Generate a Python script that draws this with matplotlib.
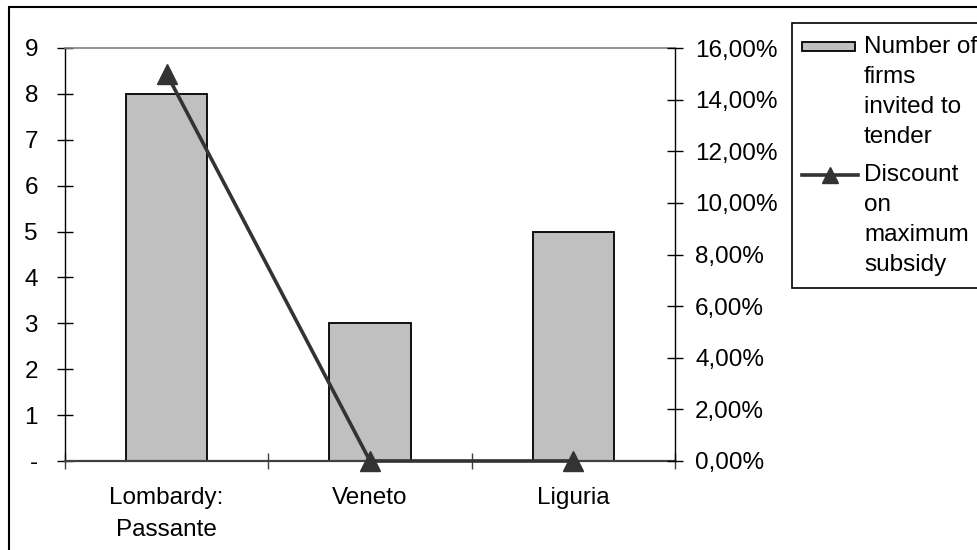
import matplotlib
matplotlib.use("Agg")
import matplotlib.pyplot as plt
from matplotlib.patches import Rectangle
from matplotlib.lines import Line2D

plt.rcParams['font.family'] = ['Liberation Sans', 'DejaVu Sans']

# ---- data ----
categories = ["Lombardy:\nPassante", "Veneto", "Liguria"]
firms_invited = [8, 3, 5]
discount = [0.15, 0.0, 0.0]
left_ticks = [0, 1, 2, 3, 4, 5, 6, 7, 8, 9]
left_labels = ["-", "1", "2", "3", "4", "5", "6", "7", "8", "9"]
right_ticks = [0.00, 0.02, 0.04, 0.06, 0.08, 0.10, 0.12, 0.14, 0.16]
legend_bar_lines = ["Number of", "firms", "invited to", "tender"]
legend_line_lines = ["Discount", "on", "maximum", "subsidy"]

W, H = 978, 550
FS = 17.5
BAR_COLOR = "#C0C0C0"
LINE_COLOR = "#333333"

fig = plt.figure(figsize=(W / 100, H / 100), dpi=100)


def fx(x):
    return x / W


def fy(y):
    return 1 - y / H


# axes area in pixels
L, R, T, B = 65, 675, 48, 461
ax = fig.add_axes([fx(L), fy(B), fx(R) - fx(L), fy(T) - fy(B)])
ax.set_facecolor("none")

xs = list(range(len(categories)))
ax.bar(xs, firms_invited, width=0.4, color=BAR_COLOR, edgecolor="black",
       linewidth=1.3, zorder=2)
ax.set_xlim(-0.5, len(categories) - 0.5)
ax.set_ylim(0, 9)
ax.set_yticks(left_ticks)
ax.set_yticklabels(left_labels, fontsize=FS)
ax.tick_params(axis="y", direction="inout", length=11, width=1, pad=14,
               colors="black")

# category boundary ticks (major), labels on minor ticks
ax.set_xticks([i - 0.5 for i in range(len(categories) + 1)])
ax.set_xticklabels([])
ax.set_xticks(xs, minor=True)
ax.set_xticklabels(categories, minor=True, fontsize=FS, linespacing=1.58)
ax.tick_params(axis="x", which="major", direction="inout", length=11,
               width=1, color="#404040")
ax.tick_params(axis="x", which="minor", length=0, pad=19)

ax.spines["top"].set_color("#808080")
ax.spines["top"].set_linewidth(1.2)
ax.spines["right"].set_visible(False)
ax.spines["left"].set_color("black")
ax.spines["left"].set_linewidth(1.0)
ax.spines["bottom"].set_color("#404040")
ax.spines["bottom"].set_linewidth(1.6)

ax2 = ax.twinx()
ax2.plot(xs, discount, color=LINE_COLOR, linewidth=2.6, marker="^",
         markersize=14, clip_on=False, zorder=5)
ax2.set_ylim(0, 0.16)
ax2.set_yticks(right_ticks)
ax2.set_yticklabels([f"{v * 100:.2f}%".replace(".", ",") for v in right_ticks],
                    fontsize=FS)
ax2.tick_params(axis="y", direction="inout", length=11, width=1, pad=9,
                colors="black")
for s in ["top", "left", "bottom"]:
    ax2.spines[s].set_visible(False)
ax2.spines["right"].set_color("black")
ax2.spines["right"].set_linewidth(1.0)

# outer chart border (extends beyond right/bottom edges)
fig.patches.append(Rectangle((fx(9), -0.1), 1.2, fy(7) + 0.1,
                             transform=fig.transFigure, fill=False,
                             edgecolor="black", linewidth=1.5))

# legend box
lg_l, lg_t, lg_b = 792, 23, 288
fig.patches.append(Rectangle((fx(lg_l), fy(lg_b)), 0.5, fy(lg_t) - fy(lg_b),
                             transform=fig.transFigure, fill=True,
                             facecolor="white", edgecolor="black",
                             linewidth=1.2))
# bar handle
fig.patches.append(Rectangle((fx(802), fy(51)), fx(855) - fx(802),
                             fy(42) - fy(51), transform=fig.transFigure,
                             facecolor=BAR_COLOR, edgecolor="black",
                             linewidth=1.3))
# line handle
fig.lines.append(Line2D([fx(802), fx(858)], [fy(175), fy(175)],
                        transform=fig.transFigure, color=LINE_COLOR,
                        linewidth=2.6))
fig.lines.append(Line2D([fx(830)], [fy(175)], transform=fig.transFigure,
                        color=LINE_COLOR, marker="^", markersize=12,
                        linestyle="none"))

STEP = 30
for i, t in enumerate(legend_bar_lines):
    fig.text(fx(864), fy(53 + i * STEP), t, fontsize=FS, va="baseline",
             ha="left")
for i, t in enumerate(legend_line_lines):
    fig.text(fx(864), fy(181 + i * STEP), t, fontsize=FS, va="baseline",
             ha="left")

fig.savefig("out.png", dpi=100)
